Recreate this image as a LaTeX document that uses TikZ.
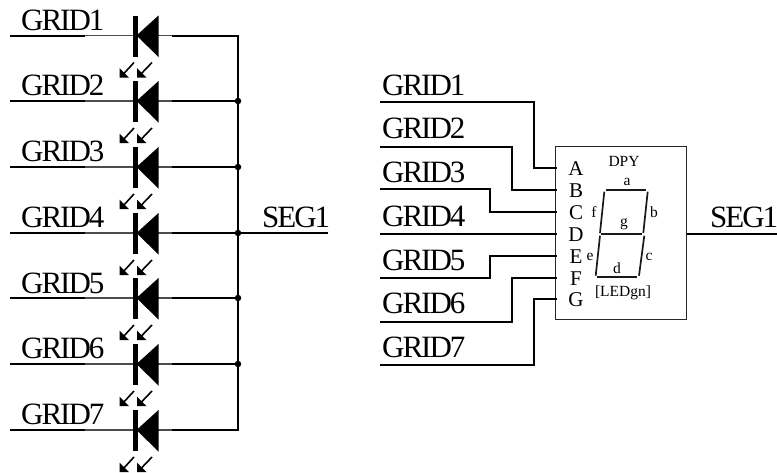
\documentclass[tikz,border=0pt]{standalone}
\usepackage{fontspec}
\setmainfont{Liberation Serif}
\newfontfamily\gridfont[LetterSpace=-6.5]{Liberation Serif}
\begin{document}
\begin{tikzpicture}[x=1pt,y=-1pt,
  wire/.style={line width=2pt,black},
  thinwire/.style={line width=1.4pt,black!70},
  segline/.style={line width=1.7pt,black!90},
  bigtext/.style={font=\gridfont\fontsize{31}{31}\selectfont,inner sep=0pt,anchor=base west},
  pintext/.style={font=\fontsize{21}{21}\selectfont,inner sep=0pt},
  smalltext/.style={font=\fontsize{15.5}{15.5}\selectfont,inner sep=0pt},
  seglabel/.style={font=\fontsize{15.5}{16}\selectfont,inner sep=0pt},
  junction/.style={circle,fill=black,inner sep=0pt,minimum size=6.5pt},
  ledbeam/.style={line width=1.6pt}]
\useasboundingbox (0,0) rectangle (777,472);
% ---- left: seven LEDs
\foreach \i/\y/\b in {1/35.5/30,2/101/95,3/167/161,4/233/227,5/298/293,6/364/358,7/430/424}{
  \coordinate (L\i) at (10,\y);
  \coordinate (La\i) at (85,\y);
  \coordinate (K\i) at (135,\y);
  \coordinate (Lb\i) at (172,\y);
  \coordinate (R\i) at (238,\y);
  \draw[wire] (L\i) -- (La\i);
  \draw[thinwire] (La\i) -- (K\i);
  \draw[thinwire] (K\i) -- (Lb\i);
  \draw[wire] (Lb\i) -- (R\i);
  \fill (133,\y-20) rectangle (138,\y+21);
  \fill (136.5,\y) -- (158.5,\y-20) -- (158.5,\y+21.5) -- cycle;
  \draw[ledbeam] (134,\y+27) -- (123,\y+39);
  \fill (119.5,\y+42) -- (119.5,\y+32.5) -- (129,\y+42) -- cycle;
  \draw[ledbeam] (152,\y+27) -- (140.5,\y+39);
  \fill (137,\y+42) -- (137,\y+32.5) -- (146.5,\y+42) -- cycle;
  \node[bigtext] (LT\i) at (21,\b) {GRID\i};
}
\draw[wire,line cap=rect] (R1) -- (R7);
\foreach \i in {2,3,4,5,6}{\node[junction] at (R\i) {};}
\coordinate (LOut) at (328,233);
\draw[wire] (R4) -- (LOut);
\node[bigtext] (LSeg) at (262,227) {SEG1};
% ---- right: display
\node[draw,line width=1.2pt,black!85,minimum width=131pt,minimum height=173pt,inner sep=0pt,anchor=north west] (box) at (555,146) {};
\foreach \i/\y/\b in {1/102/95,2/147/138,3/189/182,4/234/226,5/278/270,6/322/313,7/365/357}{
  \coordinate (G\i) at (380,\y);
  \node[bigtext] (RT\i) at (382,\b) {GRID\i};
}
\foreach \n/\y in {A/168,B/190,C/211.5,D/234,E/256,F/278,G/299}{
  \coordinate (P\n) at (557,\y);
  \node[pintext] (T\n) at (576,\y+1) {\n};
}
\draw[wire] (G1) -| (534,168) -- (PA);
\draw[wire] (G2) -| (512,190) -- (PB);
\draw[wire] (G3) -| (490,211.5) -- (PC);
\draw[wire] (G4) -- (PD);
\draw[wire] (G5) -| (490,256) -- (PE);
\draw[wire] (G6) -| (512,278) -- (PF);
\draw[wire] (G7) -| (534,299) -- (PG);
\coordinate (ROut) at (777,234);
\draw[wire] (box.east |- ROut) -- (ROut);
\node[bigtext] (RSeg) at (710,227) {SEG1};
\node[smalltext] (dpy) at (624,161) {DPY};
\node[smalltext] (led) at (623,293) {[LEDgn]};
% segments
\draw[segline] (606,190) -- (646,190);
\draw[segline] (647.7,191.7) -- (643.3,233);
\draw[segline] (644.3,235.7) -- (639,275.7);
\draw[segline] (597.3,277) -- (637.3,277);
\draw[segline] (600,235.7) -- (595.7,275.7);
\draw[segline] (604.3,191.7) -- (600,233);
\draw[segline] (601,234) -- (642.3,234);
\node[seglabel] (sa) at (627,182) {a};
\node[seglabel] (sb) at (654,212) {b};
\node[seglabel] (sc) at (649,257) {c};
\node[seglabel] (sd) at (617,268) {d};
\node[seglabel] (se) at (590,257) {e};
\node[seglabel] (sf) at (594,212) {f};
\node[seglabel] (sg) at (624,224) {g};
\end{tikzpicture}
\end{document}
